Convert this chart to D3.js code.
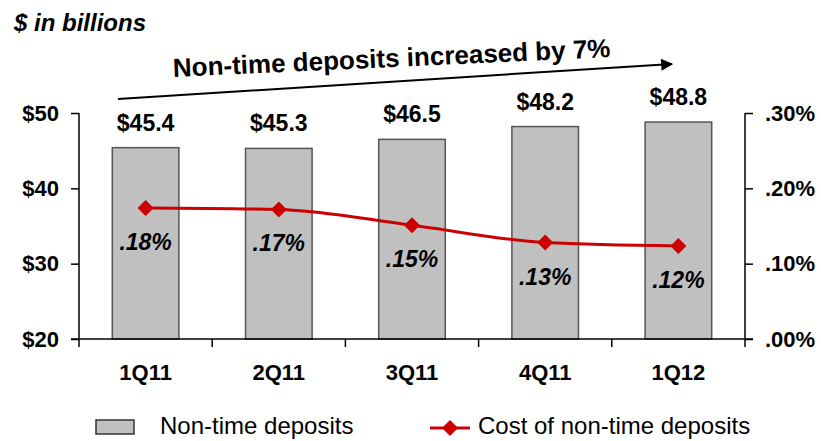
<!DOCTYPE html>
<html>
<head>
<meta charset="utf-8">
<script src="https://cdn.jsdelivr.net/npm/d3@7"></script>
<style>
  body { margin: 0; background: #fff; }
  text { font-family: "Liberation Sans", Arial, sans-serif; }
</style>
</head>
<body>
<script>
var w = 821;
var h = 441;

// data
var quarters = ["1Q11", "2Q11", "3Q11", "4Q11", "1Q12"];
var deposits = [45.4, 45.3, 46.5, 48.2, 48.8];
var depositLabels = ["$45.4", "$45.3", "$46.5", "$48.2", "$48.8"];
var cost = [0.174, 0.172, 0.151, 0.128, 0.1235];
var costLabels = [".18%", ".17%", ".15%", ".13%", ".12%"];
var leftTicks = [20, 30, 40, 50];
var rightTicks = [0, 0.1, 0.2, 0.3];

// plot box (no "top" here, window.top is taken)
var pLeft = 79, pRight = 745, pTop = 113, pBottom = 339;

var svg = d3.select("body").append("svg")
    .attr("width", w)
    .attr("height", h);

var x = d3.scaleBand()
    .domain(quarters)
    .range([pLeft, pRight])
    .paddingInner(0.5)
    .paddingOuter(0.25);

var yL = d3.scaleLinear().domain([20, 50]).range([pBottom, pTop]);
var yR = d3.scaleLinear().domain([0, 0.3]).range([pBottom, pTop]);

// subtitle
svg.append("text")
    .attr("x", 14).attr("y", 31)
    .attr("font-size", 24).attr("font-weight", "bold").attr("font-style", "italic")
    .text("$ in billions");

// arrow + headline
svg.append("defs").append("marker")
    .attr("id", "arrowhead")
    .attr("viewBox", "0 0 10 10")
    .attr("refX", 9).attr("refY", 5)
    .attr("markerWidth", 16).attr("markerHeight", 12)
    .attr("markerUnits", "userSpaceOnUse")
    .attr("orient", "auto")
    .append("path").attr("d", "M0,0 L10,5 L0,10 Z").attr("fill", "#000");

svg.append("line")
    .attr("x1", 118).attr("y1", 99)
    .attr("x2", 672).attr("y2", 64)
    .attr("stroke", "#000").attr("stroke-width", 2)
    .attr("marker-end", "url(#arrowhead)");

svg.append("text")
    .attr("transform", "translate(392,67) rotate(-2.6)")
    .attr("text-anchor", "middle")
    .attr("font-size", 26).attr("font-weight", "bold")
    .text("Non-time deposits increased by 7%");

// bars
svg.append("g").selectAll("rect")
    .data(deposits)
    .enter().append("rect")
    .attr("x", function(d, i) { return x(quarters[i]); })
    .attr("y", function(d) { return yL(d); })
    .attr("width", x.bandwidth())
    .attr("height", function(d) { return pBottom - yL(d); })
    .attr("fill", "#c0c0c0")
    .attr("stroke", "#555")
    .attr("stroke-width", 1.5);

svg.append("g").selectAll("text")
    .data(deposits)
    .enter().append("text")
    .attr("x", function(d, i) { return x(quarters[i]) + x.bandwidth() / 2; })
    .attr("y", function(d) { return yL(d) - 17; })
    .attr("text-anchor", "middle")
    .attr("font-size", 23).attr("font-weight", "bold")
    .text(function(d, i) { return depositLabels[i]; });

// left axis
var axL = svg.append("g")
    .attr("transform", "translate(" + pLeft + ",0)")
    .call(d3.axisLeft(yL).tickValues(leftTicks).tickSize(8).tickPadding(12)
        .tickFormat(function(d) { return "$" + d; }));
axL.select(".domain").attr("stroke", "#000").attr("stroke-width", 1.5).attr("d", "M0," + pTop + "V" + pBottom);
axL.selectAll(".tick line").attr("stroke", "#000").attr("stroke-width", 1.5);
axL.selectAll(".tick text").attr("font-size", 22).attr("font-weight", "bold")
    .attr("font-family", "Liberation Sans, Arial, sans-serif").attr("fill", "#000");

// right axis
var axR = svg.append("g")
    .attr("transform", "translate(" + pRight + ",0)")
    .call(d3.axisRight(yR).tickValues(rightTicks).tickSize(8).tickPadding(12)
        .tickFormat(function(d) { return d3.format(".2f")(d).replace(/^0/, "") + "%"; }));
axR.select(".domain").attr("stroke", "#000").attr("stroke-width", 1.5).attr("d", "M0," + pTop + "V" + pBottom);
axR.selectAll(".tick line").attr("stroke", "#000").attr("stroke-width", 1.5);
axR.selectAll(".tick text").attr("font-size", 22).attr("font-weight", "bold")
    .attr("font-family", "Liberation Sans, Arial, sans-serif").attr("fill", "#000");

// bottom axis, ticks on the category boundaries
var bounds = quarters.map(function(q) { return x(q) - x.step() * 0.25; }).concat([pRight]);
svg.append("line")
    .attr("x1", pLeft - 8).attr("x2", pRight + 8)
    .attr("y1", pBottom).attr("y2", pBottom)
    .attr("stroke", "#000").attr("stroke-width", 1.5);
svg.append("g").selectAll("line")
    .data(bounds)
    .enter().append("line")
    .attr("x1", function(d) { return d; }).attr("x2", function(d) { return d; })
    .attr("y1", pBottom).attr("y2", pBottom + 8)
    .attr("stroke", "#000").attr("stroke-width", 1.5);
svg.append("g").selectAll("text")
    .data(quarters)
    .enter().append("text")
    .attr("x", function(d) { return x(d) + x.bandwidth() / 2; })
    .attr("y", 380)
    .attr("text-anchor", "middle")
    .attr("font-size", 22).attr("font-weight", "bold")
    .text(function(d) { return d; });

// cost line
var line = d3.line()
    .x(function(d, i) { return x(quarters[i]) + x.bandwidth() / 2; })
    .y(function(d) { return yR(d); })
    .curve(d3.curveMonotoneX);

svg.append("path")
    .datum(cost)
    .attr("d", line)
    .attr("fill", "none")
    .attr("stroke", "#cc0000")
    .attr("stroke-width", 3);

var diamond = "M0,-8 L8,0 L0,8 L-8,0 Z";
svg.append("g").selectAll("path")
    .data(cost)
    .enter().append("path")
    .attr("d", diamond)
    .attr("transform", function(d, i) {
        return "translate(" + (x(quarters[i]) + x.bandwidth() / 2) + "," + yR(d) + ")";
    })
    .attr("fill", "#cc0000");

svg.append("g").selectAll("text")
    .data(cost)
    .enter().append("text")
    .attr("x", function(d, i) { return x(quarters[i]) + x.bandwidth() / 2; })
    .attr("y", function(d) { return yR(d) + 42; })
    .attr("text-anchor", "middle")
    .attr("font-size", 23).attr("font-weight", "bold").attr("font-style", "italic")
    .text(function(d, i) { return costLabels[i]; });

// legend
var legend = svg.append("g");
legend.append("rect")
    .attr("x", 96).attr("y", 420).attr("width", 38).attr("height", 14)
    .attr("fill", "#c0c0c0").attr("stroke", "#333").attr("stroke-width", 1.5);
legend.append("text")
    .attr("x", 160).attr("y", 434)
    .attr("font-size", 24)
    .text("Non-time deposits");
legend.append("line")
    .attr("x1", 430).attr("x2", 470).attr("y1", 428).attr("y2", 428)
    .attr("stroke", "#cc0000").attr("stroke-width", 3);
legend.append("path")
    .attr("d", diamond)
    .attr("transform", "translate(450,428)")
    .attr("fill", "#cc0000");
legend.append("text")
    .attr("x", 478).attr("y", 434)
    .attr("font-size", 24)
    .text("Cost of non-time deposits");
</script>
</body>
</html>
